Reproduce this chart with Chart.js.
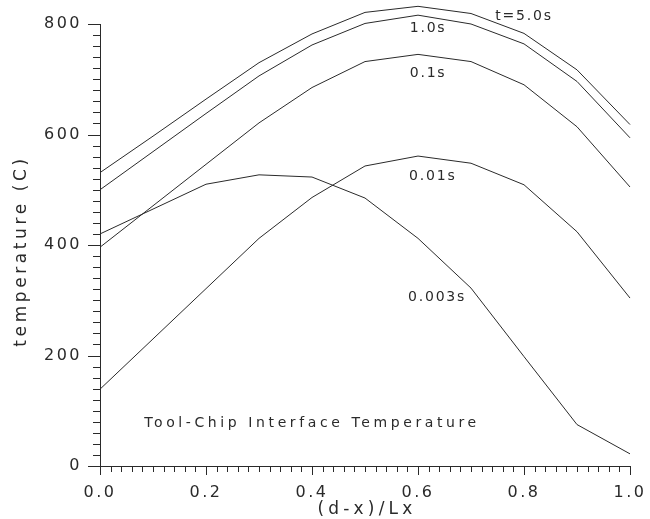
<!DOCTYPE html>
<html>
<head>
<meta charset="utf-8">
<script src="https://cdn.jsdelivr.net/npm/chart.js@4.4.1/dist/chart.umd.min.js"></script>
<style>
  body { margin: 0; background: #fff; }
  canvas { display: block; }
</style>
</head>
<body>
<canvas id="tempChart" width="650" height="519"></canvas>
<script>
// positions along the interface, (d-x)/Lx
const xPos = [0.0, 0.1, 0.2, 0.3, 0.4, 0.5, 0.6, 0.7, 0.8, 0.9, 1.0];

// temperature (C) at each time
const temp5s    = [531, 597, 664, 730, 782, 821, 832, 819, 783, 717, 618];
const temp1s    = [500, 569, 638, 706, 762, 801, 816, 800, 764, 696, 594];
const temp01s   = [396, 471, 546, 621, 685, 732, 745, 732, 690, 614, 505];
const temp001s  = [139, 230, 321, 412, 486, 543, 561, 548, 509, 424, 304];
const temp0003s = [420, 465, 510, 527, 523, 485, 412, 322, 198, 75, 22];

const curveNames = ['t=5.0s', '1.0s', '0.1s', '0.01s', '0.003s'];
const curveLabelX = [0.80, 0.619, 0.619, 0.628, 0.636];
const curveLabelY = [814, 793, 711, 525, 306];

const yTicks = [0, 200, 400, 600, 800];
const xTicks = [0.0, 0.2, 0.4, 0.6, 0.8, 1.0];

const ink = '#2a2a2a';
const font = 'DejaVu Sans';

function series(ys) {
    return ys.map((v, i) => ({ x: xPos[i], y: v }));
}

function lineSet(label, ys) {
    return {
        label: label,
        data: series(ys),
        borderColor: ink,
        borderWidth: 1,
        pointRadius: 0,
        tension: 0,
        clip: false
    };
}

const decor = {
    id: 'decor',
    beforeDraw(chart) {
        chart.ctx.letterSpacing = '2.5px';
    },
    afterDatasetsDraw(chart) {
        const ctx = chart.ctx;
        const x = chart.scales.x;
        const y = chart.scales.y;
        ctx.save();
        ctx.strokeStyle = ink;
        ctx.lineWidth = 1;
        ctx.beginPath();
        // y minor / major ticks
        for (let v = 0; v <= 800; v += 20) {
            const py = Math.round(y.getPixelForValue(v)) + 0.5;
            const len = v % 200 === 0 ? 12 : 7;
            ctx.moveTo(x.left - len, py);
            ctx.lineTo(x.left, py);
        }
        // x minor / major ticks
        for (let i = 0; i <= 50; i++) {
            const px = Math.round(x.getPixelForValue(i / 50)) + 0.5;
            const len = i % 10 === 0 ? 9 : 6;
            ctx.moveTo(px, y.bottom);
            ctx.lineTo(px, y.bottom + len);
        }
        ctx.stroke();

        ctx.fillStyle = ink;
        ctx.textAlign = 'center';
        ctx.textBaseline = 'middle';

        // curve labels
        ctx.font = '14px "' + font + '"';
        ctx.letterSpacing = '1.8px';
        curveNames.forEach((name, i) => {
            ctx.fillText(name, x.getPixelForValue(curveLabelX[i]), y.getPixelForValue(curveLabelY[i]));
        });

        // note inside the plot
        ctx.font = '14px "' + font + '"';
        ctx.letterSpacing = '3.6px';
        ctx.fillText('Tool-Chip Interface Temperature', x.getPixelForValue(0.40), y.getPixelForValue(78));

        // axis titles
        ctx.font = '17px "' + font + '"';
        ctx.letterSpacing = '4.2px';
        ctx.fillText('(d-x)/Lx', (x.left + x.right) / 2 + 2, 510);

        ctx.letterSpacing = '3.6px';
        ctx.save();
        ctx.translate(22, 251);
        ctx.rotate(-Math.PI / 2);
        ctx.fillText('temperature (C)', 0, 0);
        ctx.restore();

        ctx.restore();
    }
};

const ctx = document.getElementById('tempChart').getContext('2d');
const chart = new Chart(ctx, {
    type: 'line',
    data: {
        datasets: [
            lineSet('t=5.0s', temp5s),
            lineSet('1.0s', temp1s),
            lineSet('0.1s', temp01s),
            lineSet('0.01s', temp001s),
            lineSet('0.003s', temp0003s)
        ]
    },
    options: {
        responsive: false,
        animation: false,
        layout: { padding: { top: 24, right: 20, left: 0, bottom: 0 } },
        plugins: {
            legend: { display: false },
            tooltip: { enabled: false }
        },
        scales: {
            x: {
                type: 'linear',
                min: 0,
                max: 1,
                afterFit: s => { s.height = 53; s.paddingLeft = 0; s.paddingRight = 0; },
                afterBuildTicks: s => { s.ticks = xTicks.map(v => ({ value: v })); },
                grid: { display: false, drawTicks: false },
                border: { display: true, color: ink, width: 1 },
                ticks: {
                    color: ink,
                    padding: 17,
                    maxRotation: 0,
                    font: { family: font, size: 16 },
                    callback: v => v.toFixed(1)
                }
            },
            y: {
                min: 0,
                max: 800,
                afterFit: s => { s.width = 100; s.paddingTop = 0; s.paddingBottom = 0; },
                afterBuildTicks: s => { s.ticks = yTicks.map(v => ({ value: v })); },
                grid: { display: false, drawTicks: false },
                border: { display: true, color: ink, width: 1 },
                ticks: {
                    color: ink,
                    padding: 18,
                    font: { family: font, size: 16 },
                    callback: v => String(v)
                }
            }
        }
    },
    plugins: [decor]
});
</script>
</body>
</html>
